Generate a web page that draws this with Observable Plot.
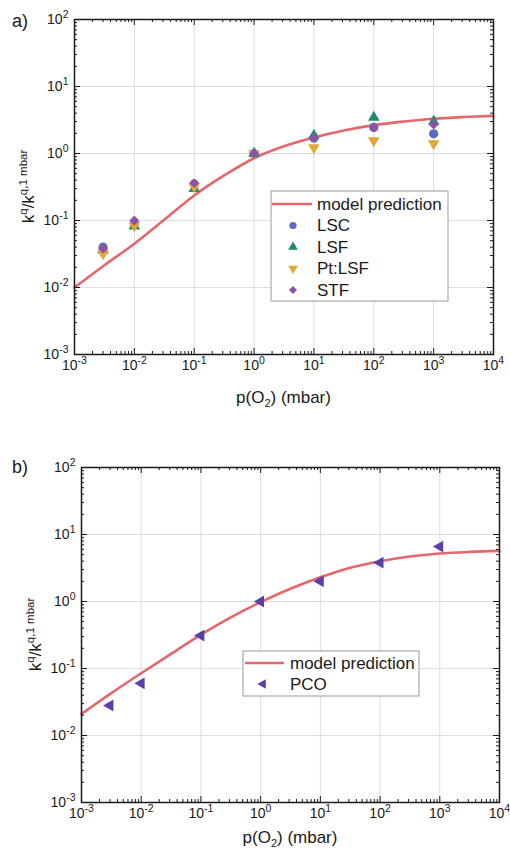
<!DOCTYPE html>
<html><head><meta charset="utf-8">
<script src="https://cdn.jsdelivr.net/npm/d3@7"></script>
<script src="https://cdn.jsdelivr.net/npm/@observablehq/plot@0.6"></script>
<style>
body{margin:0;background:#fff;}
#chart{width:510px;}
#chart svg{display:block;}
</style></head><body><div id="chart"></div>
<script>
// ---- data ----
const pressures = [0.003, 0.01, 0.1, 1, 10, 100, 1000];
const lscValues = [0.040, 0.090, 0.35, 1.0, 1.70, 2.45, 1.97];
const lsfValues = [0.036, 0.082, 0.30, 1.0, 1.86, 3.45, 3.00];
const ptlsfValues = [0.032, 0.084, 0.32, 1.0, 1.23, 1.56, 1.41];
const stfValues = [0.038, 0.100, 0.36, 1.0, 1.70, 2.44, 2.70];
const pcoValues = [0.028, 0.060, 0.31, 1.0, 2.00, 3.80, 6.60];

const modelPressures = [0.001, 0.00316, 0.01, 0.0316, 0.1, 0.316, 1, 3.16, 10, 31.6, 100, 316, 1000, 3162, 10000];
const modelA = [0.0100, 0.0215, 0.045, 0.103, 0.236, 0.47, 0.85, 1.28, 1.73, 2.2, 2.65, 3.0, 3.3, 3.5, 3.65];
const modelB = [0.021, 0.043, 0.085, 0.165, 0.32, 0.58, 0.98, 1.55, 2.3, 3.2, 4.0, 4.7, 5.2, 5.5, 5.7];

const xTicks = [0.001, 0.01, 0.1, 1, 10, 100, 1000, 10000];
const xTickLabels = ["10^-3", "10^-2", "10^-1", "10^0", "10^1", "10^2", "10^3", "10^4"];
const yTicks = [0.001, 0.01, 0.1, 1, 10, 100];
const yTickLabels = ["10^-3", "10^-2", "10^-1", "10^0", "10^1", "10^2"];
const minorMultipliers = [2, 3, 4, 5, 6, 7, 8, 9];

const colors = {model: "#e3676d", LSC: "#5a6cc2", LSF: "#1d8b6c", "Pt:LSF": "#e2a632", STF: "#8e51a6", PCO: "#5940a8"};

// ---- symbols ----
const S3 = Math.sqrt(3);
const triUp = d3.symbolTriangle;
const triDown = {draw(c, size) { const y = -Math.sqrt(size / (S3 * 3)); c.moveTo(0, -y * 2); c.lineTo(-S3 * y, y); c.lineTo(S3 * y, y); c.closePath(); }};
const triLeft = {draw(c, size) { const y = -Math.sqrt(size / (S3 * 3)); c.moveTo(y * 2, 0); c.lineTo(-y, S3 * y); c.lineTo(-y, -S3 * y); c.closePath(); }};

const FONT = "'Liberation Sans', Arial, Helvetica, sans-serif";

function minorTicks(domain) {
  const out = [];
  for (const t of domain.slice(0, -1)) for (const m of minorMultipliers) out.push(t * m);
  return out;
}

function makePanel(cfg) {
  const frameH = cfg.height - cfg.marginTop - cfg.marginBottom;
  const frameW = 510 - cfg.marginLeft - cfg.marginRight;
  const series = cfg.series;
  const model = modelPressures.map((p, i) => ({p, k: cfg.model[i]}));
  const xMinor = minorTicks(xTicks), yMinor = minorTicks(yTicks);
  const tickStyle = {stroke: "#1a1a1a", strokeWidth: 1};
  const marks = [
    Plot.ruleX(xTicks.slice(1, -1), {stroke: "#dedede", strokeWidth: 1}),
    Plot.ruleY(yTicks.slice(1, -1), {stroke: "#dedede", strokeWidth: 1}),
    Plot.line(model, {x: "p", y: "k", stroke: colors.model, strokeWidth: 2.6, curve: "catmull-rom"}),
    ...series.map(s => Plot.dot(pressures.map((p, i) => ({p, k: s.values[i]})), {x: "p", y: "k", symbol: s.symbol, fill: colors[s.name], r: s.r, stroke: "none"})),
    // inward ticks on all four sides
    Plot.tickX(xTicks, {x: d => d, insetTop: frameH - 6, ...tickStyle}),
    Plot.tickX(xTicks, {x: d => d, insetBottom: frameH - 6, ...tickStyle}),
    Plot.tickX(xMinor, {x: d => d, insetTop: frameH - 3, ...tickStyle}),
    Plot.tickX(xMinor, {x: d => d, insetBottom: frameH - 3, ...tickStyle}),
    Plot.tickY(yTicks, {y: d => d, insetRight: frameW - 6, ...tickStyle}),
    Plot.tickY(yTicks, {y: d => d, insetLeft: frameW - 6, ...tickStyle}),
    Plot.tickY(yMinor, {y: d => d, insetRight: frameW - 3, ...tickStyle}),
    Plot.tickY(yMinor, {y: d => d, insetLeft: frameW - 3, ...tickStyle}),
    Plot.frame({stroke: "#1a1a1a", strokeWidth: 1.5}),
    Plot.axisX({ticks: xTicks, tickSize: 0, tickPadding: 6, label: null, fontSize: 14, tickFormat: d => xTickLabels[xTicks.indexOf(d)]}),
    Plot.axisY({ticks: yTicks, tickSize: 0, tickPadding: 6, label: null, fontSize: 14, tickFormat: d => yTickLabels[yTicks.indexOf(d)]})
  ];
  const svg = Plot.plot({
    width: 510, height: cfg.height,
    marginTop: cfg.marginTop, marginRight: cfg.marginRight, marginBottom: cfg.marginBottom, marginLeft: cfg.marginLeft,
    x: {type: "log", domain: [0.001, 10000]},
    y: {type: "log", domain: [0.001, 100]},
    style: {fontFamily: FONT, fontSize: "14px", color: "#1a1a1a", background: "#fff", overflow: "visible"},
    marks
  });
  const root = d3.select(svg);
  // superscript tick labels
  root.selectAll("text").each(function () {
    const m = /^10\^(-?\d+)$/.exec(this.textContent);
    if (m) {
      this.textContent = "10";
      d3.select(this).append("tspan").attr("dy", -6).attr("font-size", 10.5).text(m[1]);
    }
  });
  const cx = cfg.marginLeft + frameW / 2, cy = cfg.marginTop + frameH / 2;
  const ann = root.append("g").attr("text-anchor", "start").attr("font-family", FONT).attr("fill", "#1a1a1a");
  // panel letter
  ann.append("text").attr("x", 12).attr("y", cfg.letterY).attr("font-size", 18).attr("text-anchor", "start").text(cfg.letter);
  // x title
  const xt = ann.append("text").attr("x", cx).attr("y", cfg.xTitleY).attr("text-anchor", "middle").attr("font-size", 17);
  xt.append("tspan").text("p(O");
  xt.append("tspan").attr("dy", 4).attr("font-size", 11).text("2");
  xt.append("tspan").attr("dy", -4).text(") (mbar)");
  // y title
  const yt = ann.append("text").attr("transform", `translate(${cfg.yTitleX},${cy}) rotate(-90)`).attr("text-anchor", "middle").attr("font-size", 17);
  yt.append("tspan").text("k");
  yt.append("tspan").attr("dy", -7).attr("font-size", 11.5).text("q");
  yt.append("tspan").attr("dy", 7).text("/k");
  yt.append("tspan").attr("dy", -7).attr("font-size", 11.5).text("q,1 mbar");
  // legend
  const L = cfg.legend;
  const g = ann.append("g");
  g.append("rect").attr("x", L.x).attr("y", L.y).attr("width", L.w).attr("height", L.h).attr("fill", "#fff").attr("stroke", "#9a9a9a").attr("stroke-width", 1);
  const entries = [{name: "model prediction"}, ...series];
  entries.forEach((e, i) => {
    const y = L.y + L.first + i * L.step;
    if (!e.values) {
      g.append("line").attr("x1", L.lineX1).attr("x2", L.lineX2).attr("y1", y).attr("y2", y).attr("stroke", colors.model).attr("stroke-width", 2.6);
    } else {
      g.append("path").attr("transform", `translate(${L.markerX},${y})`).attr("d", d3.symbol(e.symbol, Math.PI * 3.6 * 3.6)()).attr("fill", colors[e.name]);
    }
    g.append("text").attr("x", L.textX).attr("y", y).attr("dy", "0.35em").attr("text-anchor", "start").attr("font-size", 17).text(e.name);
  });
  return svg;
}

const chart = document.getElementById("chart");
chart.append(makePanel({
  height: 410, marginTop: 19, marginBottom: 56, marginLeft: 74, marginRight: 17,
  model: modelA, letter: "a)", letterY: 27, xTitleY: 403, yTitleX: 34,
  series: [
    {name: "LSC", values: lscValues, symbol: d3.symbolCircle, r: 4.6},
    {name: "LSF", values: lsfValues, symbol: triUp, r: 4.3},
    {name: "Pt:LSF", values: ptlsfValues, symbol: triDown, r: 4.3},
    {name: "STF", values: stfValues, symbol: d3.symbolDiamond2, r: 4.4}
  ],
  legend: {x: 271, y: 191, w: 177, h: 110, first: 13, step: 21.5, lineX1: 272, lineX2: 312, markerX: 293, textX: 317}
}));
chart.append(makePanel({
  height: 441, marginTop: 57, marginBottom: 49, marginLeft: 81, marginRight: 11,
  model: modelB, letter: "b)", letterY: 63, xTitleY: 433, yTitleX: 41,
  series: [
    {name: "PCO", values: pcoValues, symbol: triLeft, r: 4.4}
  ],
  legend: {x: 243, y: 241, w: 176, h: 45, first: 12, step: 21, lineX1: 245, lineX2: 284, markerX: 263, textX: 290}
}));
</script></body></html>
